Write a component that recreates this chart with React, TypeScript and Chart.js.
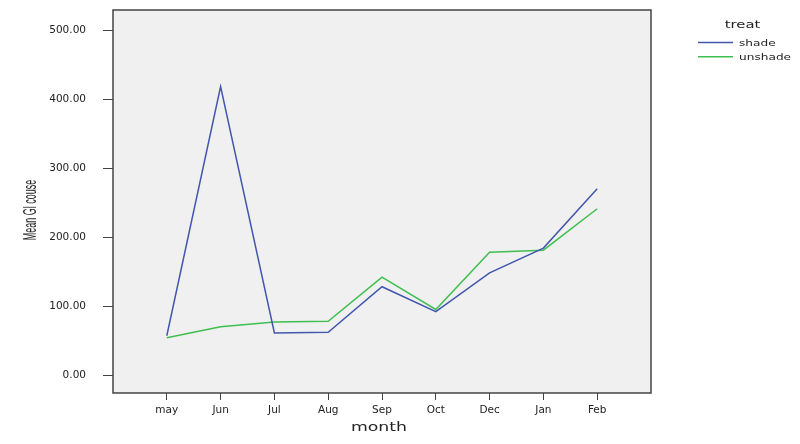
import React, { useEffect, useRef } from "react";
import { Chart, registerables } from "chart.js";

Chart.register(...registerables);

const months = ["may", "Jun", "Jul", "Aug", "Sep", "Oct", "Dec", "Jan", "Feb"];
const shade = [58, 419, 62, 63, 129, 93, 149, 185, 271];
const unshade = [55, 71, 78, 79, 143, 96, 179, 182, 242];
const yTicks = [0, 100, 200, 300, 400, 500];
const seriesNames = ["shade", "unshade"];
const seriesColors = ["#4257ad", "#3fbf4f"];
const legendTitle = "treat";
const xTitle = "month";
const yTitle = "Mean Gl couse";

function stretchedText(ctx: any, text: string, x: number, y: number, sx: number, align: string) {
  ctx.save();
  ctx.translate(x, y);
  ctx.scale(sx, 1);
  ctx.textAlign = align;
  ctx.fillText(text, 0, 0);
  ctx.restore();
}

const decor = {
  id: "decor",
  beforeDraw(chart: any) {
    const { ctx, chartArea } = chart;
    ctx.save();
    ctx.fillStyle = "#f0f0f0";
    ctx.fillRect(chartArea.left, chartArea.top, chartArea.right - chartArea.left, chartArea.bottom - chartArea.top);
    ctx.restore();
  },
  afterDraw(chart: any) {
    const { ctx, chartArea } = chart;
    ctx.save();
    ctx.strokeStyle = "#444";
    ctx.lineWidth = 1.5;
    ctx.strokeRect(chartArea.left, chartArea.top, chartArea.right - chartArea.left, chartArea.bottom - chartArea.top);

    ctx.fillStyle = "#222";
    ctx.textBaseline = "middle";
    // x title
    ctx.font = "13px 'DejaVu Sans'";
    stretchedText(ctx, xTitle, (chartArea.left + chartArea.right) / 2 - 3, 428, 1.33, "center");
    // y title (condensed, rotated)
    ctx.save();
    ctx.translate(31, 210);
    ctx.rotate(-Math.PI / 2);
    ctx.scale(0.5, 1);
    ctx.font = "18px 'Liberation Sans'";
    ctx.textAlign = "center";
    ctx.fillText(yTitle, 0, 0);
    ctx.restore();

    // legend
    ctx.font = "11px 'DejaVu Sans'";
    stretchedText(ctx, legendTitle, 742.5, 25, 1.35, "center");
    ctx.font = "9px 'DejaVu Sans'";
    seriesNames.forEach((n, i) => {
      const y = 42.5 + i * 14.3;
      ctx.strokeStyle = seriesColors[i];
      ctx.lineWidth = 1.5;
      ctx.beginPath();
      ctx.moveTo(698, y);
      ctx.lineTo(733, y);
      ctx.stroke();
      ctx.fillStyle = "#222";
      stretchedText(ctx, n, 739, y + 1, 1.35, "left");
    });
    ctx.restore();
  },
};

export default function App() {
  const ref = useRef<HTMLCanvasElement>(null);
  useEffect(() => {
    document.body.style.margin = "0";
    const toPts = (arr: number[]) => arr.map((v, i) => ({ x: i, y: v }));
    const chart = new Chart(ref.current!, {
      type: "line",
      data: {
        datasets: [
          {
            label: seriesNames[0],
            data: toPts(shade),
            borderColor: seriesColors[0],
            borderWidth: 1.5,
            pointRadius: 0,
            tension: 0,
          },
          {
            label: seriesNames[1],
            data: toPts(unshade),
            borderColor: seriesColors[1],
            borderWidth: 1.5,
            pointRadius: 0,
            tension: 0,
          },
        ],
      },
      options: {
        animation: false,
        responsive: false,
        devicePixelRatio: 1,
        layout: { padding: { left: 0, top: 10, right: 149, bottom: 0 } },
        plugins: { legend: { display: false }, tooltip: { enabled: false } },
        scales: {
          x: {
            type: "linear",
            min: -1,
            max: 9,
            afterBuildTicks: (s: any) => {
              s.ticks = months.map((_, i) => ({ value: i }));
            },
            afterFit: (s: any) => {
              s.height = 51;
              s.paddingLeft = 0;
              s.paddingRight = 0;
            },
            grid: { drawOnChartArea: false, drawTicks: true, tickLength: 7, color: "#444" },
            border: { display: false },
            ticks: {
              autoSkip: false,
              maxRotation: 0,
              padding: 4,
              color: "#222",
              font: { family: "'DejaVu Sans'", size: 10.5 },
              callback: (v: any) => months[v] ?? "",
            },
          },
          y: {
            type: "linear",
            min: -25,
            max: 530,
            afterBuildTicks: (s: any) => {
              s.ticks = yTicks.map((v) => ({ value: v }));
            },
            afterFit: (s: any) => {
              s.width = 113;
              s.paddingTop = 0;
              s.paddingBottom = 0;
            },
            grid: { drawOnChartArea: false, drawTicks: true, tickLength: 10, color: "#444" },
            border: { display: false },
            ticks: {
              padding: 17,
              color: "#222",
              font: { family: "'DejaVu Sans'", size: 10.5 },
              callback: (v: any) => Number(v).toFixed(2),
            },
          },
        },
      },
      plugins: [decor],
    } as any);
    return () => chart.destroy();
  }, []);
  return <canvas ref={ref} width={800} height={444} style={{ display: "block" }} />;
}
